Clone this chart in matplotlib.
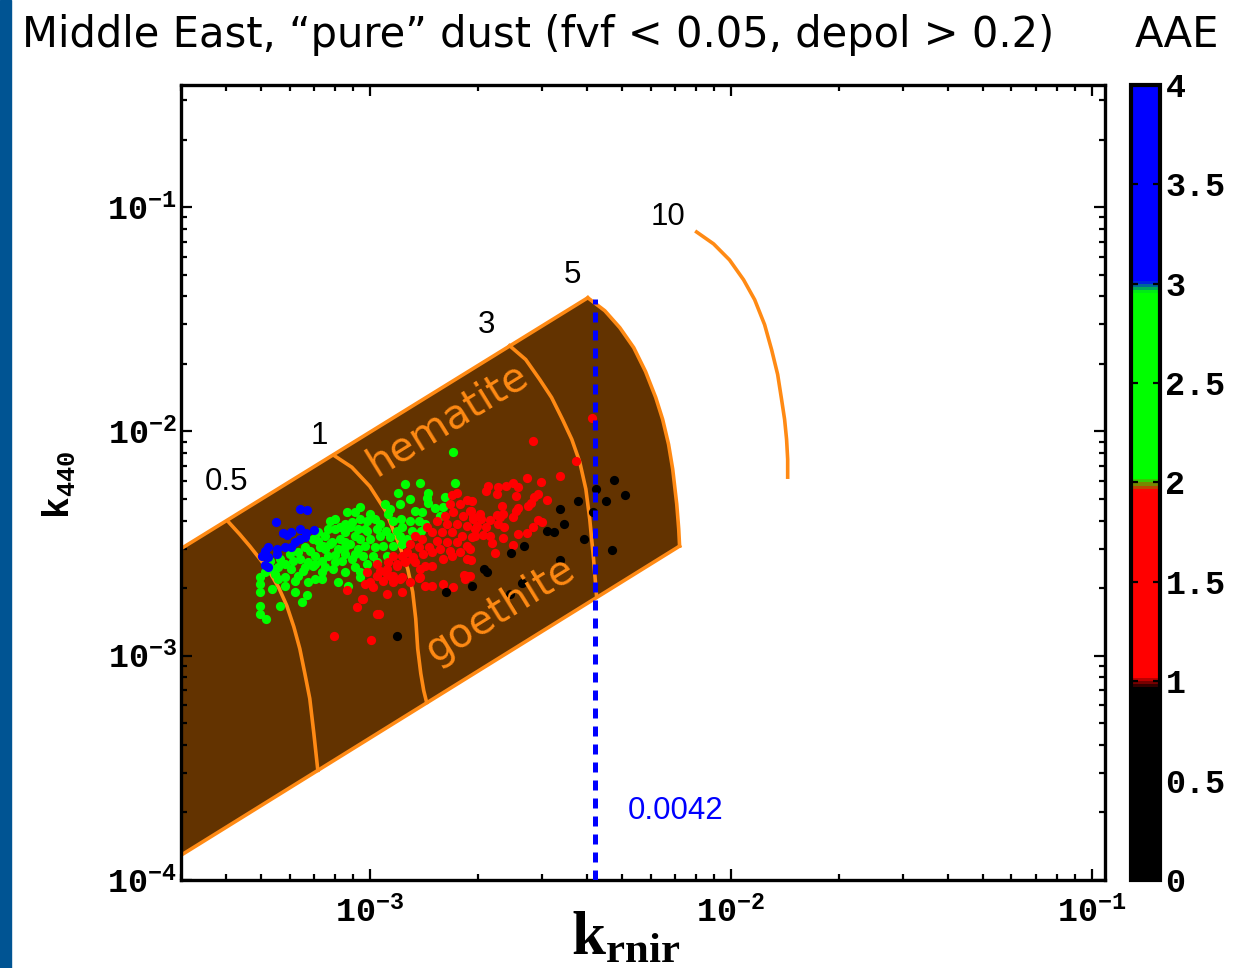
import numpy as np
import matplotlib.pyplot as plt
import matplotlib as mpl
from matplotlib.colors import LinearSegmentedColormap, Normalize
from matplotlib.ticker import FuncFormatter, LogLocator, NullFormatter
from matplotlib.patches import Rectangle

plt.rcParams['mathtext.fontset'] = 'custom'
plt.rcParams['mathtext.rm'] = 'Liberation Serif:bold'
plt.rcParams['mathtext.bf'] = 'Liberation Mono:bold'

# ---- retrievals, kr and k440 given in units of 1e-3 ----
blue_kr = [0.640, 0.668, 0.550, 0.574, 0.590, 0.605, 0.640, 0.665, 0.700, 0.620, 0.640,
           0.660, 0.582, 0.553, 0.522, 0.512, 0.502, 0.522, 0.553, 0.605, 0.512, 0.522]
blue_k440 = [4.50, 4.45, 3.94, 3.53, 3.45, 3.56, 3.67, 3.53, 3.63, 3.22, 3.31,
             3.38, 3.05, 2.99, 3.05, 2.93, 2.78, 2.75, 2.84, 3.05, 2.54, 2.49]

green_kr = [0.496, 0.496, 0.496, 0.496, 0.496, 0.515, 0.563, 0.582, 0.620, 0.668, 0.648,
            0.535, 0.556, 0.673, 0.736, 0.815, 0.870, 0.909, 0.938,
            0.775, 0.800, 0.864, 0.909, 0.853, 0.750, 0.720, 0.695, 0.661, 0.632,
            0.612, 0.582, 0.556, 0.535, 0.512, 0.605, 0.652, 0.695, 0.736, 0.765,
            0.815, 0.853, 0.909, 0.926, 0.785, 0.750, 0.705, 0.673, 0.632, 0.736,
            0.790, 0.853, 0.891, 0.837, 0.926, 0.800, 0.765, 0.720, 0.853, 0.891,
            0.740, 0.800, 0.705,
            1.70, 1.25, 1.375, 1.72, 1.195, 1.45, 1.44, 1.614, 1.45, 1.514,
            1.60, 1.563, 1.40, 1.333, 1.136, 1.12, 1.00, 1.032, 0.98, 1.066,
            1.16, 1.22, 1.29, 1.366, 1.42, 1.39, 1.31, 1.23, 1.19, 1.11,
            1.045, 0.98, 1.00, 1.066, 1.136, 1.211, 1.27, 0.969, 1.032, 1.09,
            1.16, 1.226, 0.957, 1.02, 1.115, 1.05, 0.98, 0.938,
            0.826, 0.880, 0.938, 0.909, 0.853, 0.969, 0.938, 0.880, 0.826, 0.775,
            0.727, 0.682, 0.640, 0.600, 0.563, 0.528, 0.545, 0.582, 0.620, 0.661,
            0.705, 0.750, 0.800, 0.853, 1.10, 1.211, 1.291, 0.938]
green_k440 = [2.24, 2.09, 1.93, 1.67, 1.54, 1.45, 1.67, 2.05, 1.93, 1.87, 1.74,
              1.99, 2.20, 2.14, 2.20, 2.14, 2.05, 2.49, 2.24,
              3.98, 4.06, 4.37, 4.37, 3.86, 3.42, 3.25, 3.31, 3.05, 2.90,
              2.65, 2.57, 2.49, 2.44, 2.37, 2.44, 2.39, 2.52, 2.65, 2.78,
              2.99, 3.22, 3.42, 3.67, 3.22, 2.99, 2.78, 2.62, 2.27, 2.37,
              2.44, 2.37, 2.70, 2.65, 2.99, 3.67, 3.67, 3.56, 3.56, 3.94,
              3.08, 2.62, 2.20,
              8.07, 5.82, 5.87, 5.87, 5.31, 5.31, 5.04, 5.09, 4.79, 4.54,
              4.59, 4.19, 4.37, 4.41, 4.50, 4.28, 4.28, 4.06, 3.98, 3.86,
              3.98, 4.06, 3.98, 3.98, 3.86, 3.60, 3.60, 3.74, 3.60, 3.60,
              3.67, 3.60, 3.31, 3.42, 3.38, 3.42, 3.31, 3.08, 3.05, 3.08,
              3.08, 3.15, 2.78, 2.78, 2.78, 2.62, 2.57, 2.37,
              3.31, 3.15, 3.31, 2.84, 2.84, 3.67, 4.06, 3.74, 3.74, 3.15,
              3.05, 2.93, 2.70, 2.84, 2.70, 2.65, 2.32, 2.24, 2.15, 2.49,
              2.57, 2.49, 2.81, 3.05, 4.74, 4.74, 4.99, 4.59]

red_kr = [1.69, 1.75, 1.86, 1.92, 1.666, 1.775, 1.893, 1.70, 1.81, 1.93,
          1.614, 1.534, 1.634, 1.74, 1.86, 1.954, 1.44, 1.485, 1.583, 1.688,
          1.80, 1.92, 1.333, 1.393, 1.534, 1.634, 1.74, 1.86, 1.291, 1.366,
          1.457, 1.563, 1.666, 1.775, 1.893, 1.266, 1.226, 1.316, 1.485, 1.402,
          1.688, 1.60, 1.86, 1.16, 1.12, 1.188, 1.25, 1.333, 1.42, 1.485,
          1.375, 1.066, 1.115, 1.16, 1.23, 1.375, 1.045, 1.09, 1.16, 1.00,
          0.969, 1.02, 1.86, 1.833, 1.42, 1.49, 1.594, 1.70, 1.23, 1.115,
          0.957, 1.05,
          2.83, 3.74, 3.36, 2.98, 2.72, 2.49, 2.38, 2.26, 2.12, 2.10,
          2.25, 2.58, 2.55, 2.92, 2.86, 3.09, 2.80, 2.75, 2.58, 2.55,
          2.32, 2.017, 1.91, 1.93, 2.04, 2.15, 2.25, 2.34, 2.29, 2.50,
          2.92, 3.00, 2.26, 2.10, 1.98, 2.83, 2.35, 2.15, 1.954, 2.06,
          2.34, 2.57, 2.72, 2.50, 2.18, 2.22, 1.91, 1.893, 4.12,
          1.82, 1.291, 1.211, 1.136, 1.115, 1.19, 1.25, 1.307, 1.045, 0.98,
          0.864, 0.95, 0.92, 1.06, 0.794, 1.006, 1.37]
red_k440 = [5.20, 5.31, 4.94, 4.89, 4.74, 4.74, 4.41, 4.37, 4.19, 4.15,
            4.19, 3.98, 3.86, 3.86, 3.78, 3.67, 3.74, 3.56, 3.56, 3.56,
            3.42, 3.38, 3.42, 3.31, 3.25, 3.21, 3.21, 3.08, 3.15, 3.05,
            3.05, 2.99, 2.93, 2.90, 2.99, 2.90, 2.78, 2.75, 2.90, 2.84,
            2.78, 2.70, 2.70, 2.78, 2.62, 2.57, 2.65, 2.62, 2.52, 2.52,
            2.44, 2.39, 2.32, 2.27, 2.24, 2.24, 2.27, 2.15, 2.13, 2.13,
            2.09, 2.02, 2.27, 2.20, 2.05, 2.05, 2.09, 2.02, 1.93, 1.89,
            1.79, 1.54,
            9.10, 7.36, 6.32, 5.93, 6.19, 5.87, 5.70, 5.64, 5.70, 5.42,
            5.25, 5.64, 5.14, 5.25, 5.09, 4.94, 4.79, 4.64, 4.54, 4.41,
            4.64, 4.28, 4.41, 4.06, 4.06, 4.02, 4.23, 4.28, 4.15, 4.15,
            4.02, 3.94, 3.86, 3.74, 3.78, 3.74, 3.74, 3.42, 3.42, 3.45,
            3.35, 3.49, 3.53, 3.12, 3.18, 2.87, 2.67, 2.27, 11.5,
            2.29, 2.13, 2.20, 2.27, 2.44, 2.52, 2.62, 2.70, 2.57, 2.37,
            1.97, 1.79, 1.65, 1.54, 1.23, 1.17, 2.22]

black_kr = [3.78, 3.36, 3.45, 3.09, 3.23, 3.92, 2.67, 2.47, 3.36, 2.07, 2.11,
            2.65, 2.45, 1.92, 1.63, 1.188, 4.74, 4.23, 5.09, 4.51, 4.15, 4.68]
black_k440 = [4.89, 4.50, 3.86, 3.60, 3.56, 3.31, 3.08, 2.87, 2.67, 2.44, 2.36,
              2.11, 1.89, 2.05, 1.93, 1.23, 6.06, 5.53, 5.20, 4.89, 4.37, 2.96]

# ---- mixing-model envelope and iso-lines ----
upper_kr = [3.0e-4, 4.02e-3]
upper_k440 = [3.0e-3, 3.94e-2]
lower_kr = [3.0e-4, 7.22e-3]
lower_k440 = [1.29e-4, 3.08e-3]

iso05_kr = [4.04e-4, 4.36e-4, 4.65e-4, 4.96e-4, 5.28e-4, 5.60e-4, 5.89e-4,
            6.16e-4, 6.40e-4, 6.61e-4, 6.82e-4, 7.00e-4, 7.18e-4]
iso05_k440 = [3.98e-3, 3.48e-3, 3.08e-3, 2.70e-3, 2.36e-3, 2.005e-3, 1.67e-3,
              1.346e-3, 1.074e-3, 8.32e-4, 6.44e-4, 4.50e-4, 3.08e-4]
iso1_kr = [7.95e-4, 8.92e-4, 1.0e-3, 1.107e-3, 1.211e-3, 1.274e-3, 1.315e-3,
           1.341e-3, 1.358e-3, 1.385e-3, 1.411e-3, 1.438e-3]
iso1_k440 = [7.82e-3, 6.92e-3, 5.69e-3, 4.41e-3, 3.08e-3, 2.44e-3, 1.925e-3,
             1.46e-3, 1.074e-3, 8.32e-4, 6.99e-4, 6.18e-4]
iso3_kr = [2.44e-3, 2.705e-3, 2.96e-3, 3.19e-3, 3.42e-3, 3.63e-3, 3.82e-3,
           3.97e-3, 4.07e-3, 4.17e-3, 4.25e-3]
iso3_k440 = [2.41e-2, 2.09e-2, 1.70e-2, 1.416e-2, 1.131e-2, 9.21e-3, 7.28e-3,
             5.53e-3, 4.06e-3, 2.70e-3, 1.85e-3]
iso5_kr = [4.02e-3, 4.48e-3, 4.93e-3, 5.39e-3, 5.81e-3, 6.20e-3, 6.48e-3,
           6.73e-3, 6.91e-3, 7.09e-3, 7.18e-3, 7.22e-3]
iso5_k440 = [3.94e-2, 3.45e-2, 2.90e-2, 2.36e-2, 1.848e-2, 1.416e-2, 1.131e-2,
             8.75e-3, 6.78e-3, 4.74e-3, 3.67e-3, 3.08e-3]
iso10_kr = [8.05e-3, 8.97e-3, 9.93e-3, 1.086e-2, 1.166e-2, 1.242e-2, 1.299e-2,
            1.35e-2, 1.384e-2, 1.411e-2, 1.429e-2, 1.439e-2, 1.439e-2]
iso10_k440 = [7.74e-2, 6.85e-2, 5.81e-2, 4.74e-2, 3.86e-2, 2.99e-2, 2.31e-2,
              1.792e-2, 1.388e-2, 1.131e-2, 9.21e-3, 7.51e-3, 6.25e-3]

iso_labels = ['0.5', '1', '3', '5', '10']
iso_label_kr = [4.01e-4, 7.27e-4, 2.10e-3, 3.65e-3, 6.69e-3]
iso_label_k440 = [5.93e-3, 9.5e-3, 2.99e-2, 4.99e-2, 9.03e-2]

kr_threshold = 0.0042

brown = '#633300'
orange = '#ff8a14'

aae_cmap = LinearSegmentedColormap.from_list('aae', [
    (0.0, 'black'), (0.24, 'black'), (0.255, 'red'), (0.49, 'red'),
    (0.505, 'lime'), (0.74, 'lime'), (0.755, 'blue'), (1.0, 'blue')])

fig = plt.figure(figsize=(12.53, 9.68), dpi=100)
fig.patches.append(Rectangle((0, 0), 0.0085, 1, transform=fig.transFigure,
                             color='#005493', zorder=0))
ax = fig.add_axes([0.1445, 0.0909, 0.7374, 0.8213])

# brown envelope
env_kr = upper_kr + iso5_kr[1:] + lower_kr[::-1][1:]
env_k440 = upper_k440 + iso5_k440[1:] + lower_k440[::-1][1:]
ax.fill(env_kr, env_k440, color=brown, lw=0, zorder=1)
lw = 2.6
ax.plot(upper_kr, upper_k440, color=orange, lw=lw, zorder=2)
ax.plot(lower_kr, lower_k440, color=orange, lw=lw, zorder=2)
for xs, ys in [(iso05_kr, iso05_k440), (iso1_kr, iso1_k440), (iso3_kr, iso3_k440),
               (iso5_kr, iso5_k440), (iso10_kr, iso10_k440)]:
    ax.plot(xs, ys, color=orange, lw=lw, zorder=2, solid_joinstyle='round')

for lab, x, y in zip(iso_labels, iso_label_kr, iso_label_k440):
    ax.text(x, y, lab, fontsize=22.5, family='Liberation Sans', ha='center', va='center')

# retrieval points
ms = 44
for xs, ys, c in [(green_kr, green_k440, 'lime'), (red_kr, red_k440, 'red'),
                  (blue_kr, blue_k440, 'blue'), (black_kr, black_k440, 'black')]:
    ax.scatter(np.array(xs) * 1e-3, np.array(ys) * 1e-3, s=ms, c=c, lw=0, zorder=3)

ax.plot([kr_threshold, kr_threshold], [1e-4, 3.9e-2], color='blue', lw=3.6,
        dashes=(2.0, 1.6), zorder=4)
ax.text(5.18e-3, 2.03e-4, '0.0042', color='blue', fontsize=22.5,
        family='Liberation Sans', ha='left', va='center')

ax.text(1.64e-3, 1.13e-2, 'hematite', color=orange, fontsize=29, rotation=31.7,
        rotation_mode='anchor', ha='center', va='center', zorder=5)
ax.text(2.3e-3, 1.6e-3, 'goethite', color=orange, fontsize=29, rotation=31.7,
        rotation_mode='anchor', ha='center', va='center', zorder=5)

ax.set_xscale('log')
ax.set_yscale('log')
ax.set_xlim(3.0e-4, 0.109)
ax.set_ylim(1e-4, 0.35)

fmt = FuncFormatter(lambda v, p: r'$\mathbf{10^{%d}}$' % round(np.log10(v)))
for axis in (ax.xaxis, ax.yaxis):
    axis.set_major_locator(LogLocator(base=10))
    axis.set_minor_locator(LogLocator(base=10, subs=np.arange(2, 10)))
    axis.set_major_formatter(fmt)
    axis.set_minor_formatter(NullFormatter())
ax.tick_params(which='both', direction='in', top=True, right=True, width=1.6,
               labelsize=24)
ax.tick_params(which='major', length=8)
ax.tick_params(which='minor', length=4)
ax.tick_params(axis='x', pad=12)
ax.tick_params(axis='y', pad=3)
for s in ax.spines.values():
    s.set_linewidth(2.4)

fig.text(0.499, 1 - 938 / 968, r'$\mathrm{k_{rnir}}$', fontsize=44, ha='center', va='center')
fig.text(0.047, 1 - 485 / 968, r'$\mathbf{k_{440}}$', fontsize=26, rotation=90,
         ha='center', va='center')

fig.text(0.0176, 0.9638, 'Middle East, \u201cpure\u201d dust (fvf < 0.05, depol > 0.2)',
         fontsize=30, ha='left', va='center')
fig.text(0.939, 0.9638, 'AAE', fontsize=30, ha='center', va='center')

# colourbar
cax = fig.add_axes([0.9026, 0.0909, 0.0231, 0.8213])
sm = mpl.cm.ScalarMappable(norm=Normalize(0, 4), cmap=aae_cmap)
cb = fig.colorbar(sm, cax=cax, ticks=np.arange(0, 4.01, 0.5))
cb.ax.set_yticklabels(['0', '0.5', '1', '1.5', '2', '2.5', '3', '3.5', '4'],
                      family='Liberation Mono', weight='bold')
cb.ax.tick_params(direction='in', left=True, right=True, length=5, width=1.6,
                  labelsize=24, pad=4)
cb.outline.set_linewidth(3)

fig.savefig('out.png', dpi=100)
